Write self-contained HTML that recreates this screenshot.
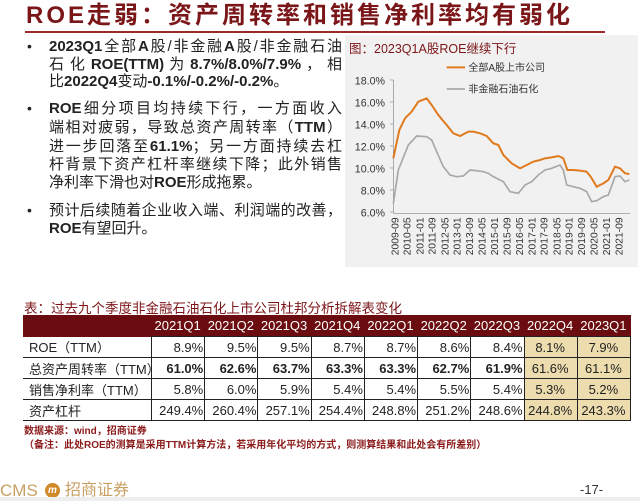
<!DOCTYPE html>
<html><head><meta charset="utf-8"><style>
body{margin:0;width:640px;height:501px;background:#fff;position:relative;overflow:hidden;font-family:"Liberation Sans","Noto Sans CJK SC",sans-serif;}
.a{position:absolute;white-space:nowrap;}
.t{font-size:24px;line-height:28px;font-weight:bold;color:#7a1518;left:26px;top:2px;letter-spacing:3px}
.ln{position:absolute;left:49px;width:293px;font-size:15px;color:#222;text-align:justify;text-align-last:justify;height:18px;line-height:18px;white-space:nowrap}
.b{font-weight:bold}
.bul{position:absolute;left:27px;font-size:14px;color:#222}
table{position:absolute;left:23px;top:315px;border-collapse:collapse;font-size:13px;color:#222;table-layout:fixed;width:608px}
td{height:20px;border-bottom:1px solid #222;border-right:1px solid #222;text-align:right;padding:0 1px 0 0;overflow:hidden;white-space:nowrap}
td.l{text-align:left;padding-left:6px;border-right:1px solid #222}
tr.h td{background:#6b0d10;color:#fff;text-align:center;border-right:none;height:21px}
td.y{background:#ecdcae;text-align:center}
</style></head><body>
<div class="a t">ROE走弱：资产周转率和销售净利率均有弱化</div>
<div class="a" style="left:25px;top:31px;width:580px;height:2px;background:#9b2a2a"></div>

<div class="bul" style="top:38px">•</div>
<div class="ln" style="top:38px"><span class="b">2023Q1</span>全部<span class="b">A</span>股/非金融<span class="b">A</span>股/非金融石油</div>
<div class="ln" style="top:56px">石 化 <span class="b">ROE(TTM)</span> 为 <span class="b">8.7%/8.0%/7.9%</span> ， 相</div>
<div class="ln" style="top:73px;width:auto;text-align-last:auto">比<span class="b">2022Q4</span>变动<span class="b">-0.1%/-0.2%/-0.2%</span>。</div>
<div class="bul" style="top:100px">•</div>
<div class="ln" style="top:100px"><span class="b">ROE</span>细分项目均持续下行，一方面收入</div>
<div class="ln" style="top:119px">端相对疲弱，导致总资产周转率（<span class="b">TTM</span>）</div>
<div class="ln" style="top:138px">进一步回落至<span class="b">61.1%</span>；另一方面持续去杠</div>
<div class="ln" style="top:156px">杆背景下资产杠杆率继续下降；此外销售</div>
<div class="ln" style="top:174px;width:auto;text-align-last:auto">净利率下滑也对<span class="b">ROE</span>形成拖累。</div>
<div class="bul" style="top:202px">•</div>
<div class="ln" style="top:202px">预计后续随着企业收入端、利润端的改善，</div>
<div class="ln" style="top:220px;width:auto;text-align-last:auto"><span class="b">ROE</span>有望回升。</div>

<div class="a" style="left:345px;top:35px;width:293px;height:232px;background:#f1f1f1"></div>
<div class="a" style="left:349px;top:38px;font-size:12.5px;color:#7d1518">图：2023Q1A股ROE继续下行</div>
<svg class="a" style="left:340px;top:30px" width="300" height="270" viewBox="0 0 900 810">
<g font-size="32" fill="#333" text-anchor="end" font-family="Liberation Sans">
<text x="135" y="163">18.0%</text><text x="135" y="229">16.0%</text><text x="135" y="295">14.0%</text><text x="135" y="361">12.0%</text><text x="135" y="427">10.0%</text><text x="135" y="493">8.0%</text><text x="135" y="559">6.0%</text>
</g>
<line x1="160" y1="150" x2="160" y2="550" stroke="#888" stroke-width="2"/>
<line x1="160" y1="550" x2="870" y2="550" stroke="#888" stroke-width="2"/>
<g stroke="#888" stroke-width="2">
<line x1="150" y1="150" x2="160" y2="150"/><line x1="150" y1="216" x2="160" y2="216"/><line x1="150" y1="282" x2="160" y2="282"/><line x1="150" y1="348" x2="160" y2="348"/><line x1="150" y1="414" x2="160" y2="414"/><line x1="150" y1="480" x2="160" y2="480"/><line x1="150" y1="546" x2="160" y2="546"/>
</g>
<g font-size="31" fill="#333" font-family="Liberation Sans" text-anchor="end">
<text transform="translate(175,562) rotate(-90)">2009-09</text>
<text transform="translate(212,562) rotate(-90)">2010-05</text>
<text transform="translate(250,562) rotate(-90)">2011-01</text>
<text transform="translate(287,562) rotate(-90)">2011-09</text>
<text transform="translate(325,562) rotate(-90)">2012-05</text>
<text transform="translate(362,562) rotate(-90)">2013-01</text>
<text transform="translate(399,562) rotate(-90)">2013-09</text>
<text transform="translate(437,562) rotate(-90)">2014-05</text>
<text transform="translate(474,562) rotate(-90)">2015-01</text>
<text transform="translate(511,562) rotate(-90)">2015-09</text>
<text transform="translate(549,562) rotate(-90)">2016-05</text>
<text transform="translate(586,562) rotate(-90)">2017-01</text>
<text transform="translate(623,562) rotate(-90)">2017-09</text>
<text transform="translate(661,562) rotate(-90)">2018-05</text>
<text transform="translate(698,562) rotate(-90)">2019-01</text>
<text transform="translate(735,562) rotate(-90)">2019-09</text>
<text transform="translate(773,562) rotate(-90)">2020-05</text>
<text transform="translate(810,562) rotate(-90)">2021-01</text>
<text transform="translate(847,562) rotate(-90)">2021-09</text>
</g>
<polyline fill="none" stroke="#a8a8a8" stroke-width="5" points="160,520 175,420 205,345 230,318 260,320 275,330 290,365 310,410 330,435 350,440 370,438 390,420 410,422 430,425 445,430 460,440 470,445 490,455 510,485 535,490 555,465 575,455 595,435 615,420 635,415 660,405 670,420 680,465 700,470 720,475 740,485 755,515 770,512 790,500 805,495 825,440 840,438 855,455 868,450"/>
<polyline fill="none" stroke="#e07a1e" stroke-width="6" points="160,385 178,300 195,265 215,245 235,215 260,205 275,225 295,255 320,285 340,310 360,318 385,305 400,305 420,310 440,318 460,340 475,345 490,375 515,400 540,415 560,405 580,395 600,390 615,385 635,382 655,378 670,385 682,420 700,420 720,422 740,425 752,440 770,470 790,460 805,450 825,410 840,415 855,430 868,432"/>
<line x1="320" y1="112" x2="375" y2="112" stroke="#e07a1e" stroke-width="6"/>
<line x1="320" y1="177" x2="375" y2="177" stroke="#a8a8a8" stroke-width="5"/>
<text x="385" y="123" font-size="30" fill="#333">全部A股上市公司</text>
<text x="385" y="188" font-size="30" fill="#333">非金融石油石化</text>
</svg>

<div class="a" style="left:24px;top:297px;font-size:13.5px;color:#7d1518">表：过去九个季度非金融石油石化上市公司杜邦分析拆解表变化</div>
<table>
<colgroup><col style="width:128px"><col style="width:53px"><col style="width:53px"><col style="width:53px"><col style="width:53px"><col style="width:53px"><col style="width:53px"><col style="width:53px"><col style="width:53px"><col style="width:53px"></colgroup>
<tr class="h"><td class="l" style="border:none"></td><td>2021Q1</td><td>2021Q2</td><td>2021Q3</td><td>2021Q4</td><td>2022Q1</td><td>2022Q2</td><td>2022Q3</td><td>2022Q4</td><td>2023Q1</td></tr>
<tr><td class="l">ROE（TTM）</td><td>8.9%</td><td>9.5%</td><td>9.5%</td><td>8.7%</td><td>8.7%</td><td>8.6%</td><td>8.4%</td><td class="y">8.1%</td><td class="y">7.9%</td></tr>
<tr class="b"><td class="l" style="font-weight:normal">总资产周转率（TTM）</td><td>61.0%</td><td>62.6%</td><td>63.7%</td><td>63.3%</td><td>63.3%</td><td>62.7%</td><td>61.9%</td><td class="y" style="font-weight:normal">61.6%</td><td class="y" style="font-weight:normal">61.1%</td></tr>
<tr><td class="l">销售净利率（TTM）</td><td>5.8%</td><td>6.0%</td><td>5.9%</td><td>5.4%</td><td>5.4%</td><td>5.5%</td><td>5.4%</td><td class="y">5.3%</td><td class="y">5.2%</td></tr>
<tr><td class="l">资产杠杆</td><td>249.4%</td><td>260.4%</td><td>257.1%</td><td>254.4%</td><td>248.8%</td><td>251.2%</td><td>248.6%</td><td class="y">244.8%</td><td class="y">243.3%</td></tr>
</table>
<div class="a" style="left:24px;top:422px;font-size:10px;color:#8b1a1a;font-weight:bold">数据来源：wind，招商证券</div>
<div class="a" style="left:24px;top:436px;font-size:10px;color:#8b1a1a;font-weight:bold">（备注：此处ROE的测算是采用TTM计算方法，若采用年化平均的方式，则测算结果和此处会有所差别）</div>

<div class="a" style="left:0;top:482px;font-size:17px;line-height:17px;color:#c9a063">CMS</div>
<div class="a" style="left:45px;top:483px;width:15px;height:15px;border-radius:50%;background:#d08a2a;color:#fff;font-size:10px;text-align:center;line-height:15px;font-style:italic;font-weight:bold">m</div>
<div class="a" style="left:65px;top:482px;font-size:16px;line-height:17px;color:#c9a063">招商证券</div>
<div class="a" style="left:580px;top:483px;font-size:13px;line-height:14px;color:#333">-17-</div>
<div class="a" style="left:0;top:497px;width:640px;height:4px;background:#eee"></div>
</body></html>
